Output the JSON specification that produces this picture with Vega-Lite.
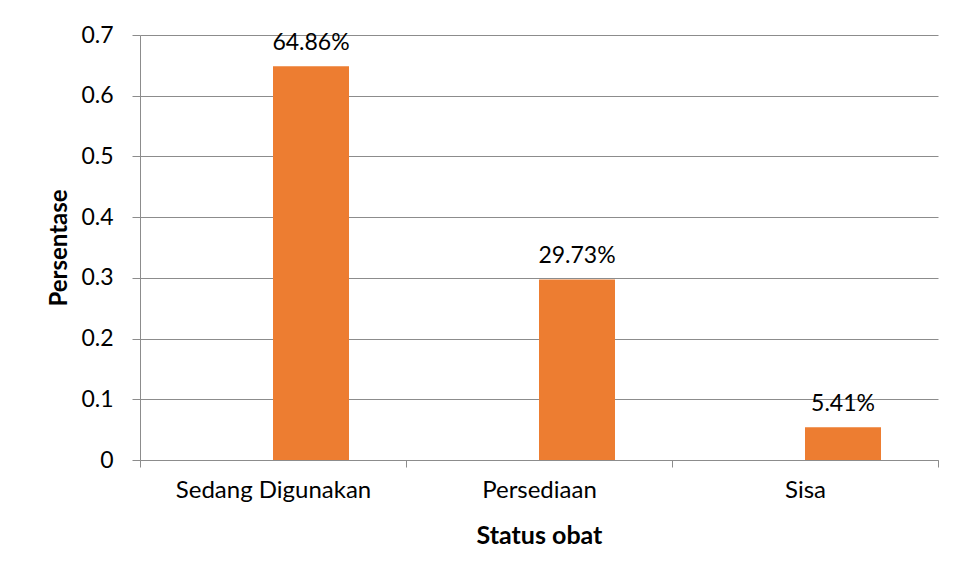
{
  "$schema": "https://vega.github.io/schema/vega-lite/v6.json",
  "width": 798,
  "height": 425,
  "autosize": {"type": "none"},
  "padding": {"left": 140, "top": 35, "right": 20, "bottom": 119},
  "background": "white",
  "config": {
    "view": {"stroke": null},
    "font": "Lato",
    "axis": {"labelFont": "Lato", "titleFont": "Lato"}
  },
  "data": {
    "values": [
      {"status": "Sedang Digunakan", "series": "b", "value": 0.6486, "label": "64.86%"},
      {"status": "Persediaan", "series": "b", "value": 0.2973, "label": "29.73%"},
      {"status": "Sisa", "series": "b", "value": 0.0541, "label": "5.41%"}
    ]
  },
  "encoding": {
    "x": {
      "field": "status",
      "type": "nominal",
      "sort": ["Sedang Digunakan", "Persediaan", "Sisa"],
      "scale": {"paddingInner": 0, "paddingOuter": 0},
      "axis": {
        "title": "Status obat",
        "titleFontSize": 25,
        "titleFontWeight": "bold",
        "titleColor": "#000000",
        "titlePadding": 21,
        "labelAngle": 0,
        "labelFontSize": 24,
        "labelLimit": 0,
        "labelColor": "#000000",
        "labelPadding": 11,
        "tickBand": "extent",
        "tickSize": 7,
        "tickColor": "#8c8c8c",
        "domainColor": "#8c8c8c",
        "grid": false
      }
    },
    "xOffset": {
      "field": "series",
      "type": "nominal",
      "scale": {"domain": ["a", "b"], "paddingInner": 0, "paddingOuter": 0.75}
    },
    "y": {
      "field": "value",
      "type": "quantitative",
      "scale": {"domain": [0, 0.7], "nice": false},
      "axis": {
        "title": "Persentase",
        "titleFontSize": 24,
        "titleFontWeight": "bold",
        "titleColor": "#000000",
        "titlePadding": 9,
        "values": [0, 0.1, 0.2, 0.3, 0.4, 0.5, 0.6, 0.7],
        "format": "~g",
        "labelFontSize": 23,
        "labelColor": "#000000",
        "labelPadding": 19,
        "tickSize": 8,
        "tickColor": "#8c8c8c",
        "domainColor": "#8c8c8c",
        "grid": true,
        "gridColor": "#8c8c8c"
      }
    }
  },
  "layer": [
    {"mark": {"type": "bar", "color": "#ED7D31"}},
    {
      "mark": {"type": "text", "baseline": "bottom", "dy": -11, "fontSize": 23, "color": "#000000"},
      "encoding": {"text": {"field": "label"}}
    }
  ]
}
